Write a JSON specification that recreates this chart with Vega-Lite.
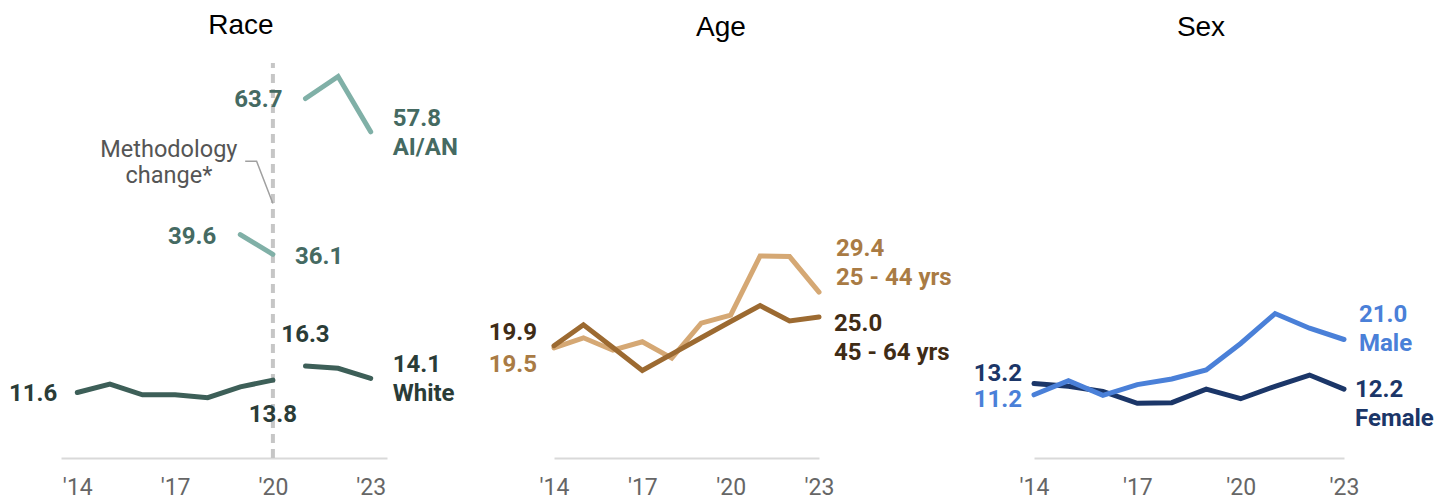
{
  "$schema": "https://vega.github.io/schema/vega-lite/v6.json",
  "padding": {"left": 1, "top": 12, "right": 0, "bottom": 0},
  "autosize": {"type": "pad"},
  "bounds": "flush",
  "spacing": 0,
  "resolve": {"scale": {"color": "independent", "x": "independent", "y": "independent"}},
  "config": {
    "view": {"stroke": null},
    "font": "Roboto",
    "title": {"font": "Liberation Sans", "fontSize": 28, "fontWeight": "normal", "color": "#000000", "anchor": "middle", "frame": "group", "baseline": "alphabetic", "offset": 21},
    "axis": {"domainColor": "#d9d9d9", "domainWidth": 2, "ticks": false, "grid": false, "labelFont": "Roboto", "labelFontSize": 23, "labelColor": "#666666", "labelPadding": 18, "labelFlush": false, "title": null},
    "text": {"font": "Roboto", "fontSize": 24, "fontWeight": "bold", "lineBreak": "\n", "lineHeight": 29, "baseline": "middle"},
    "line": {"strokeWidth": 5, "strokeCap": "round"}
  },
  "datasets": {
    "series": [
      {"panel": "Race", "series": "White", "seg": "White1", "year": 2014, "value": 11.6},
      {"panel": "Race", "series": "White", "seg": "White1", "year": 2015, "value": 13.1},
      {"panel": "Race", "series": "White", "seg": "White1", "year": 2016, "value": 11.2},
      {"panel": "Race", "series": "White", "seg": "White1", "year": 2017, "value": 11.2},
      {"panel": "Race", "series": "White", "seg": "White1", "year": 2018, "value": 10.7},
      {"panel": "Race", "series": "White", "seg": "White1", "year": 2019, "value": 12.6},
      {"panel": "Race", "series": "White", "seg": "White1", "year": 2020, "value": 13.8},
      {"panel": "Race", "series": "White", "seg": "White2", "year": 2021, "value": 16.3},
      {"panel": "Race", "series": "White", "seg": "White2", "year": 2022, "value": 15.9},
      {"panel": "Race", "series": "White", "seg": "White2", "year": 2023, "value": 14.1},
      {"panel": "Race", "series": "AI/AN", "seg": "AIAN1", "year": 2019, "value": 39.6},
      {"panel": "Race", "series": "AI/AN", "seg": "AIAN1", "year": 2020, "value": 36.1},
      {"panel": "Race", "series": "AI/AN", "seg": "AIAN2", "year": 2021, "value": 63.7},
      {"panel": "Race", "series": "AI/AN", "seg": "AIAN2", "year": 2022, "value": 67.6},
      {"panel": "Race", "series": "AI/AN", "seg": "AIAN2", "year": 2023, "value": 57.8},
      {"panel": "Age", "series": "25 - 44 yrs", "seg": "a25", "year": 2014, "value": 19.5},
      {"panel": "Age", "series": "25 - 44 yrs", "seg": "a25", "year": 2015, "value": 21.3},
      {"panel": "Age", "series": "25 - 44 yrs", "seg": "a25", "year": 2016, "value": 19.1},
      {"panel": "Age", "series": "25 - 44 yrs", "seg": "a25", "year": 2017, "value": 20.6},
      {"panel": "Age", "series": "25 - 44 yrs", "seg": "a25", "year": 2018, "value": 17.7},
      {"panel": "Age", "series": "25 - 44 yrs", "seg": "a25", "year": 2019, "value": 23.9},
      {"panel": "Age", "series": "25 - 44 yrs", "seg": "a25", "year": 2020, "value": 25.3},
      {"panel": "Age", "series": "25 - 44 yrs", "seg": "a25", "year": 2021, "value": 35.8},
      {"panel": "Age", "series": "25 - 44 yrs", "seg": "a25", "year": 2022, "value": 35.7},
      {"panel": "Age", "series": "25 - 44 yrs", "seg": "a25", "year": 2023, "value": 29.4},
      {"panel": "Age", "series": "45 - 64 yrs", "seg": "a45", "year": 2014, "value": 19.9},
      {"panel": "Age", "series": "45 - 64 yrs", "seg": "a45", "year": 2015, "value": 23.6},
      {"panel": "Age", "series": "45 - 64 yrs", "seg": "a45", "year": 2016, "value": 19.6},
      {"panel": "Age", "series": "45 - 64 yrs", "seg": "a45", "year": 2017, "value": 15.5},
      {"panel": "Age", "series": "45 - 64 yrs", "seg": "a45", "year": 2018, "value": 18.4},
      {"panel": "Age", "series": "45 - 64 yrs", "seg": "a45", "year": 2019, "value": 21.3},
      {"panel": "Age", "series": "45 - 64 yrs", "seg": "a45", "year": 2020, "value": 24.2},
      {"panel": "Age", "series": "45 - 64 yrs", "seg": "a45", "year": 2021, "value": 27.0},
      {"panel": "Age", "series": "45 - 64 yrs", "seg": "a45", "year": 2022, "value": 24.3},
      {"panel": "Age", "series": "45 - 64 yrs", "seg": "a45", "year": 2023, "value": 25.0},
      {"panel": "Sex", "series": "Female", "seg": "f", "year": 2014, "value": 13.2},
      {"panel": "Sex", "series": "Female", "seg": "f", "year": 2015, "value": 12.7},
      {"panel": "Sex", "series": "Female", "seg": "f", "year": 2016, "value": 11.8},
      {"panel": "Sex", "series": "Female", "seg": "f", "year": 2017, "value": 9.7},
      {"panel": "Sex", "series": "Female", "seg": "f", "year": 2018, "value": 9.8},
      {"panel": "Sex", "series": "Female", "seg": "f", "year": 2019, "value": 12.2},
      {"panel": "Sex", "series": "Female", "seg": "f", "year": 2020, "value": 10.5},
      {"panel": "Sex", "series": "Female", "seg": "f", "year": 2021, "value": 12.7},
      {"panel": "Sex", "series": "Female", "seg": "f", "year": 2022, "value": 14.7},
      {"panel": "Sex", "series": "Female", "seg": "f", "year": 2023, "value": 12.2},
      {"panel": "Sex", "series": "Male", "seg": "m", "year": 2014, "value": 11.2},
      {"panel": "Sex", "series": "Male", "seg": "m", "year": 2015, "value": 13.7},
      {"panel": "Sex", "series": "Male", "seg": "m", "year": 2016, "value": 11.1},
      {"panel": "Sex", "series": "Male", "seg": "m", "year": 2017, "value": 13.0},
      {"panel": "Sex", "series": "Male", "seg": "m", "year": 2018, "value": 14.0},
      {"panel": "Sex", "series": "Male", "seg": "m", "year": 2019, "value": 15.6},
      {"panel": "Sex", "series": "Male", "seg": "m", "year": 2020, "value": 20.3},
      {"panel": "Sex", "series": "Male", "seg": "m", "year": 2021, "value": 25.6},
      {"panel": "Sex", "series": "Male", "seg": "m", "year": 2022, "value": 23.0},
      {"panel": "Sex", "series": "Male", "seg": "m", "year": 2023, "value": 21.0}
    ],
    "labels": [
      {"id": "w0", "year": 2014, "value": 11.6, "text": "11.6"},
      {"id": "w1", "year": 2020, "value": 13.8, "text": "13.8"},
      {"id": "w2", "year": 2021, "value": 16.3, "text": "16.3"},
      {"id": "w3", "year": 2023, "value": 14.1, "text": "14.1\nWhite"},
      {"id": "a0", "year": 2019, "value": 39.6, "text": "39.6"},
      {"id": "a1", "year": 2020, "value": 36.1, "text": "36.1"},
      {"id": "a2", "year": 2021, "value": 63.7, "text": "63.7"},
      {"id": "a3", "year": 2023, "value": 57.8, "text": "57.8\nAI/AN"},
      {"id": "note", "year": 2020, "value": 52.5, "text": "Methodology\nchange*"},
      {"id": "g0", "year": 2014, "value": 19.9, "text": "19.9"},
      {"id": "g1", "year": 2014, "value": 19.5, "text": "19.5"},
      {"id": "g2", "year": 2023, "value": 29.4, "text": "29.4\n25 - 44 yrs"},
      {"id": "g3", "year": 2023, "value": 25.0, "text": "25.0\n45 - 64 yrs"},
      {"id": "s0", "year": 2014, "value": 13.2, "text": "13.2"},
      {"id": "s1", "year": 2014, "value": 11.2, "text": "11.2"},
      {"id": "s2", "year": 2023, "value": 21.0, "text": "21.0\nMale"},
      {"id": "s3", "year": 2023, "value": 12.2, "text": "12.2\nFemale"}
    ],
    "methodRule": [{"year": 2020, "lo": 0, "hi": 70}],
    "leader": [
      {"year": 2019.15, "value": 52.6},
      {"year": 2019.5, "value": 52.6},
      {"year": 2020, "value": 45.1}
    ]
  },
  "hconcat": [
    {
      "width": 480,
      "height": 395,
      "title": {"text": "Race"},
      "encoding": {
        "x": {"field": "year", "type": "quantitative", "scale": {"domain": [2013.5, 2023.5], "range": [60, 386], "nice": false, "zero": false}, "axis": {"values": [2014, 2017, 2020, 2023], "labelExpr": "\"'\" + substring(toString(datum.value), 2)"}},
        "y": {"field": "value", "type": "quantitative", "scale": {"domain": [0, 70], "nice": false}, "axis": null}
      },
      "layer": [
        {"data": {"name": "methodRule"}, "mark": {"type": "rule", "stroke": "#c6c6c6", "strokeWidth": 4, "strokeDash": [9, 6]}, "encoding": {"y": {"field": "lo", "type": "quantitative"}, "y2": {"field": "hi"}}},
        {"data": {"name": "leader"}, "mark": {"type": "line", "color": "#a0a0a0", "strokeWidth": 1.5, "strokeCap": "butt"}, "encoding": {}},
        {"data": {"name": "series"}, "transform": [{"filter": "datum.panel == 'Race'"}], "mark": {"type": "line"}, "encoding": {"color": {"field": "series", "type": "nominal", "scale": {"domain": ["White", "AI/AN"], "range": ["#3d5f58", "#80b0a7"]}, "legend": null}, "detail": {"field": "seg", "type": "nominal"}}},
        {"data": {"name": "labels"}, "transform": [{"filter": "datum.id == 'w0'"}], "mark": {"type": "text", "align": "right", "dx": -20, "dy": 1, "color": "#2a3c37"}, "encoding": {"text": {"field": "text"}}},
        {"data": {"name": "labels"}, "transform": [{"filter": "datum.id == 'w1'"}], "mark": {"type": "text", "align": "center", "dy": 35, "color": "#2a3c37"}, "encoding": {"text": {"field": "text"}}},
        {"data": {"name": "labels"}, "transform": [{"filter": "datum.id == 'w2'"}], "mark": {"type": "text", "align": "center", "dy": -31, "color": "#2a3c37"}, "encoding": {"text": {"field": "text"}}},
        {"data": {"name": "labels"}, "transform": [{"filter": "datum.id == 'w3'"}], "mark": {"type": "text", "align": "left", "dx": 22, "dy": -13.5, "color": "#2a3c37"}, "encoding": {"text": {"field": "text"}}},
        {"data": {"name": "labels"}, "transform": [{"filter": "datum.id == 'a0'"}], "mark": {"type": "text", "align": "right", "dx": -24, "dy": 2, "color": "#456a62"}, "encoding": {"text": {"field": "text"}}},
        {"data": {"name": "labels"}, "transform": [{"filter": "datum.id == 'a1'"}], "mark": {"type": "text", "align": "left", "dx": 22, "dy": 3, "color": "#456a62"}, "encoding": {"text": {"field": "text"}}},
        {"data": {"name": "labels"}, "transform": [{"filter": "datum.id == 'a2'"}], "mark": {"type": "text", "align": "right", "dx": -23, "dy": 1, "color": "#456a62"}, "encoding": {"text": {"field": "text"}}},
        {"data": {"name": "labels"}, "transform": [{"filter": "datum.id == 'a3'"}], "mark": {"type": "text", "align": "left", "dx": 22, "dy": -12.5, "color": "#456a62"}, "encoding": {"text": {"field": "text"}}},
        {"data": {"name": "labels"}, "transform": [{"filter": "datum.id == 'note'"}], "mark": {"type": "text", "align": "center", "dx": -104, "dy": -12, "color": "#555555", "fontWeight": "normal", "fontSize": 23.5, "lineHeight": 26.5}, "encoding": {"text": {"field": "text"}}}
      ]
    },
    {
      "width": 480,
      "height": 395,
      "title": {"text": "Age"},
      "encoding": {
        "x": {"field": "year", "type": "quantitative", "scale": {"domain": [2014, 2023], "range": [73, 338], "nice": false, "zero": false}, "axis": {"values": [2014, 2017, 2020, 2023], "labelExpr": "\"'\" + substring(toString(datum.value), 2)"}},
        "y": {"field": "value", "type": "quantitative", "scale": {"domain": [0, 70], "nice": false}, "axis": null}
      },
      "layer": [
        {"data": {"name": "series"}, "transform": [{"filter": "datum.panel == 'Age'"}], "mark": {"type": "line"}, "encoding": {"color": {"field": "series", "type": "nominal", "scale": {"domain": ["25 - 44 yrs", "45 - 64 yrs"], "range": ["#d5a874", "#9c6a31"]}, "legend": null}, "detail": {"field": "seg", "type": "nominal"}}},
        {"data": {"name": "labels"}, "transform": [{"filter": "datum.id == 'g0'"}], "mark": {"type": "text", "align": "right", "dx": -17, "dy": -13, "color": "#3f2c16"}, "encoding": {"text": {"field": "text"}}},
        {"data": {"name": "labels"}, "transform": [{"filter": "datum.id == 'g1'"}], "mark": {"type": "text", "align": "right", "dx": -17, "dy": 17, "color": "#a97b44"}, "encoding": {"text": {"field": "text"}}},
        {"data": {"name": "labels"}, "transform": [{"filter": "datum.id == 'g2'"}], "mark": {"type": "text", "align": "left", "dx": 17, "dy": -43.5, "color": "#a97b44"}, "encoding": {"text": {"field": "text"}}},
        {"data": {"name": "labels"}, "transform": [{"filter": "datum.id == 'g3'"}], "mark": {"type": "text", "align": "left", "dx": 15, "dy": 7.5, "color": "#3f2c16"}, "encoding": {"text": {"field": "text"}}}
      ]
    },
    {
      "width": 480,
      "height": 395,
      "title": {"text": "Sex"},
      "encoding": {
        "x": {"field": "year", "type": "quantitative", "scale": {"domain": [2014, 2023], "range": [73, 383], "nice": false, "zero": false}, "axis": {"values": [2014, 2017, 2020, 2023], "labelExpr": "\"'\" + substring(toString(datum.value), 2)"}},
        "y": {"field": "value", "type": "quantitative", "scale": {"domain": [0, 70], "nice": false}, "axis": null}
      },
      "layer": [
        {"data": {"name": "series"}, "transform": [{"filter": "datum.panel == 'Sex'"}], "mark": {"type": "line"}, "encoding": {"color": {"field": "series", "type": "nominal", "scale": {"domain": ["Female", "Male"], "range": ["#1b3668", "#4a80d8"]}, "legend": null}, "detail": {"field": "seg", "type": "nominal"}}},
        {"data": {"name": "labels"}, "transform": [{"filter": "datum.id == 's0'"}], "mark": {"type": "text", "align": "right", "dx": -12, "dy": -10, "color": "#1b3668"}, "encoding": {"text": {"field": "text"}}},
        {"data": {"name": "labels"}, "transform": [{"filter": "datum.id == 's1'"}], "mark": {"type": "text", "align": "right", "dx": -12, "dy": 5, "color": "#4a80d8"}, "encoding": {"text": {"field": "text"}}},
        {"data": {"name": "labels"}, "transform": [{"filter": "datum.id == 's2'"}], "mark": {"type": "text", "align": "left", "dx": 15, "dy": -24.5, "color": "#4a80d8"}, "encoding": {"text": {"field": "text"}}},
        {"data": {"name": "labels"}, "transform": [{"filter": "datum.id == 's3'"}], "mark": {"type": "text", "align": "left", "dx": 11, "dy": 0.5, "color": "#1b3668"}, "encoding": {"text": {"field": "text"}}}
      ]
    }
  ]
}
